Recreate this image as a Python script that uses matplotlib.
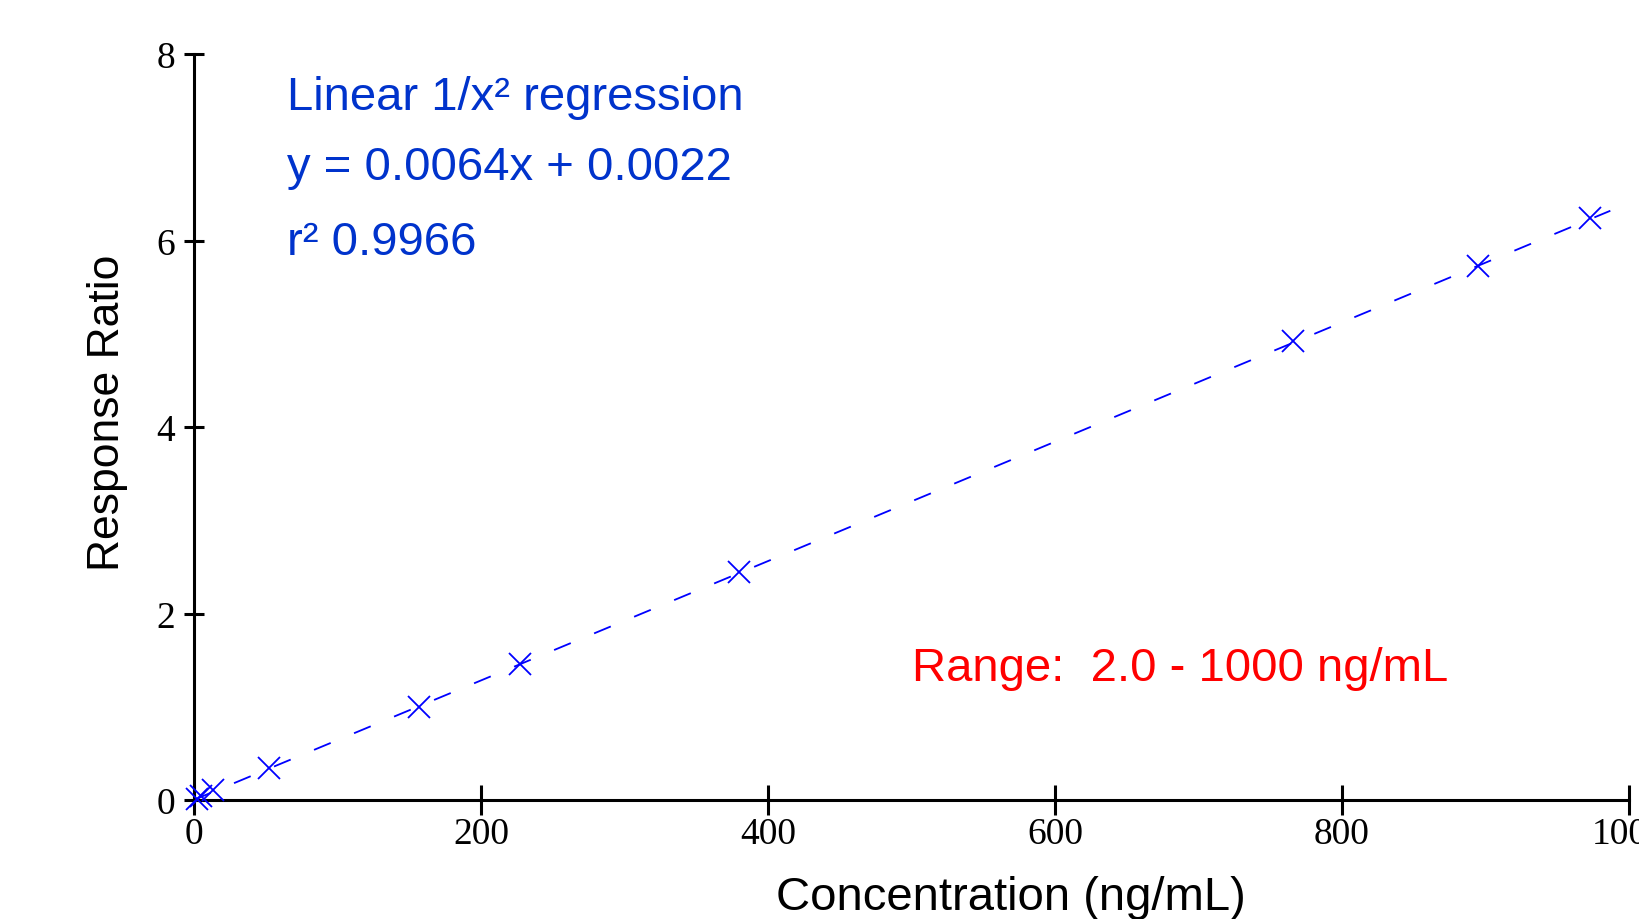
import numpy as np
import matplotlib.pyplot as plt

# calibration standards
conc = [2, 5, 13, 52, 157, 227, 380, 766, 895, 973]
ratio = [0.015, 0.04, 0.11, 0.34, 1.00, 1.46, 2.44, 4.92, 5.73, 6.24]

# regression from the annotation
slope = 0.0064
intercept = 0.0022
fit_range = [0, 987]

x_ticks = [0, 200, 400, 600, 800, 1000]
y_ticks = [0, 2, 4, 6, 8]

blue_text = "#0033cc"

fig = plt.figure(figsize=(16.39, 9.2), dpi=100)
ax = fig.add_axes([194 / 1639, 1 - 801 / 920, 1435 / 1639, 746 / 920])

fx = np.array(fit_range)
ax.plot(fx, slope * fx + intercept, color="#0000ff", linewidth=1.3,
        dashes=(10, 14), zorder=2)
ax.plot(conc, ratio, linestyle="none", marker="x", color="#0000ff",
        markersize=16, markeredgewidth=1.3, zorder=3, clip_on=False)

ax.set_xlim(0, 1000)
ax.set_ylim(0, 8)
ax.set_xticks(x_ticks)
ax.set_yticks(y_ticks)

for s in ["top", "right"]:
    ax.spines[s].set_visible(False)
for s in ["left", "bottom"]:
    ax.spines[s].set_linewidth(2.2)

ax.tick_params(axis="x", direction="inout", length=22, width=2.2, pad=1,
               labelsize=27)
ax.tick_params(axis="y", direction="inout", length=15, width=2.2, pad=6,
               labelsize=27)
for lab in ax.get_xticklabels() + ax.get_yticklabels():
    lab.set_fontfamily("Liberation Serif")

# axis titles placed where the reference has them
fig.text(1011 / 1639, 1 - 910 / 920, "Concentration (ng/mL)", fontsize=34,
         family="Liberation Sans", ha="center", va="baseline")
fig.text(108 / 1639, 1 - 413 / 920, "Response Ratio", fontsize=32,
         family="Liberation Sans", ha="center", va="center", rotation=90)

fig.text(287 / 1639, 1 - 110 / 920, "Linear 1/x² regression", color=blue_text,
         fontsize=34, family="Liberation Sans", va="baseline")
fig.text(287 / 1639, 1 - 180 / 920, "y = 0.0064x + 0.0022", color=blue_text,
         fontsize=34, family="Liberation Sans", va="baseline")
fig.text(287 / 1639, 1 - 255 / 920, "r² 0.9966", color=blue_text,
         fontsize=34, family="Liberation Sans", va="baseline")
fig.text(912 / 1639, 1 - 681 / 920, "Range:  2.0 - 1000 ng/mL", color="#ff0000",
         fontsize=34, family="Liberation Sans", va="baseline")

fig.savefig("out.png", dpi=100)
